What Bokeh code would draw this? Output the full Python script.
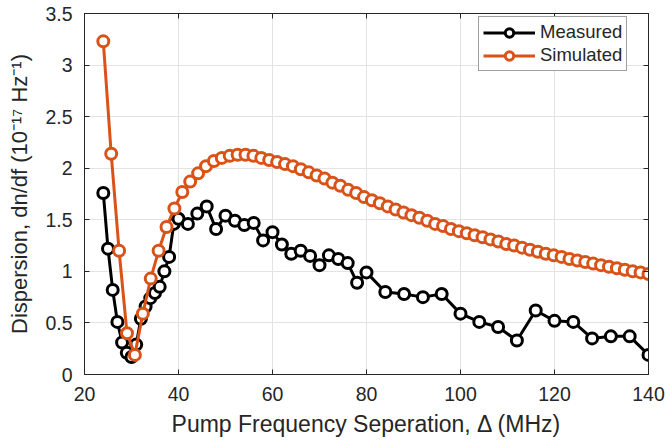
from bokeh.plotting import figure
from bokeh.models import Range1d, LinearAxis, FixedTicker, CustomJSTickFormatter, Legend
from bokeh.embed import file_html
from bokeh.resources import INLINE

# ---------------- data ----------------
meas_x = [24, 25, 26, 27, 28, 29, 30, 31, 32, 33, 34, 35, 36, 37, 38, 39, 40,
          42, 44, 46, 48, 50, 52, 54, 56, 58, 60, 62, 64, 66, 68, 70, 72, 74, 76, 78, 80,
          84, 88, 92, 96, 100, 104, 108, 112, 116, 120, 124, 128, 132, 136, 140]
meas_y = [1.76, 1.22, 0.82, 0.51, 0.31, 0.21, 0.17, 0.29, 0.54, 0.66, 0.74, 0.79, 0.85, 1.00, 1.14, 1.46, 1.51,
          1.46, 1.56, 1.63, 1.41, 1.54, 1.49, 1.45, 1.47, 1.30, 1.38, 1.26, 1.17, 1.20, 1.15, 1.06, 1.155, 1.12, 1.08, 0.89, 0.99,
          0.80, 0.78, 0.75, 0.78, 0.59, 0.51, 0.46, 0.33, 0.62, 0.52, 0.51, 0.35, 0.37, 0.37, 0.19]

sim_x = [24.00, 25.68, 27.36, 29.04, 30.72, 32.41, 34.09, 35.77, 37.45, 39.13,
         40.81, 42.49, 44.17, 45.86, 47.54, 49.22, 50.90, 52.58, 54.26, 55.94,
         57.62, 59.30, 60.99, 62.67, 64.35, 66.03, 67.71, 69.39, 71.07, 72.75,
         74.43, 76.12, 77.80, 79.48, 81.16, 82.84, 84.52, 86.20, 87.88, 89.57,
         91.25, 92.93, 94.61, 96.29, 97.97, 99.65, 101.33, 103.01, 104.70, 106.38,
         108.06, 109.74, 111.42, 113.10, 114.78, 116.46, 118.14, 119.83, 121.51, 123.19,
         124.87, 126.55, 128.23, 129.91, 131.59, 133.28, 134.96, 136.64, 138.32, 140.00]
sim_y = [3.23, 2.14, 1.20, 0.40, 0.19, 0.59, 0.93, 1.20, 1.43, 1.61,
         1.77, 1.87, 1.95, 2.02, 2.07, 2.10, 2.12, 2.13, 2.13, 2.12,
         2.10, 2.08, 2.06, 2.04, 2.02, 1.99, 1.96, 1.93, 1.90, 1.86,
         1.83, 1.79, 1.76, 1.72, 1.69, 1.66, 1.63, 1.60, 1.57, 1.545,
         1.52, 1.49, 1.46, 1.44, 1.41, 1.39, 1.37, 1.35, 1.33, 1.31,
         1.29, 1.265, 1.25, 1.23, 1.21, 1.19, 1.17, 1.155, 1.14, 1.12,
         1.105, 1.09, 1.075, 1.06, 1.045, 1.03, 1.015, 1.00, 0.99, 0.975]

x_ticks = [20, 40, 60, 80, 100, 120, 140]
y_ticks = [0, 0.5, 1, 1.5, 2, 2.5, 3, 3.5]

FONT = "Liberation Sans"
TXT = "#262626"

p = figure(width=665, height=441, output_backend="svg", toolbar_location=None,
           x_range=Range1d(20, 140), y_range=Range1d(0, 3.5),
           min_border_left=84, min_border_right=17, min_border_top=13, min_border_bottom=67,
           x_axis_label="Pump Frequency Seperation, \u0394 (MHz)",
           y_axis_label="Dispersion, dn/df (10\u207b\u00b9\u2077 Hz\u207b\u00b9)")
p.outline_line_color = TXT
p.outline_line_width = 1
p.background_fill_color = "white"
p.border_fill_color = "white"

for ax in (p.xaxis[0], p.yaxis[0]):
    ax.axis_line_color = TXT
    ax.major_tick_line_color = TXT
    ax.major_tick_in = 5
    ax.major_tick_out = 0
    ax.minor_tick_line_color = None
    ax.major_label_text_font = FONT
    ax.major_label_text_font_size = "19.5px"
    ax.major_label_text_color = TXT
    ax.axis_label_text_font = FONT
    ax.axis_label_text_font_style = "normal"
    ax.axis_label_text_color = TXT
p.xaxis[0].axis_label_text_font_size = "23px"
p.yaxis[0].axis_label_text_font_size = "22px"
p.xaxis[0].ticker = FixedTicker(ticks=x_ticks)
p.yaxis[0].ticker = FixedTicker(ticks=y_ticks)
p.xaxis[0].major_label_standoff = 12
p.xaxis[0].axis_label_standoff = 7
p.yaxis[0].major_label_standoff = 12
p.yaxis[0].axis_label_standoff = 10

blank = CustomJSTickFormatter(code="return ''")
top = LinearAxis(ticker=FixedTicker(ticks=x_ticks), formatter=blank,
                 major_tick_in=5, major_tick_out=0, minor_tick_line_color=None,
                 major_label_standoff=0, axis_line_color=TXT, major_tick_line_color=TXT)
right = LinearAxis(ticker=FixedTicker(ticks=y_ticks), formatter=blank,
                   major_tick_in=5, major_tick_out=0, minor_tick_line_color=None,
                   major_label_standoff=0, axis_line_color=TXT, major_tick_line_color=TXT)
p.add_layout(top, "above")
p.add_layout(right, "right")

p.xgrid.ticker = FixedTicker(ticks=x_ticks)
p.ygrid.ticker = FixedTicker(ticks=y_ticks)
p.grid.grid_line_color = "#e3e3e3"
p.grid.grid_line_width = 1

BLACK = "#000000"
ORANGE = "#D95319"

r1 = p.line(meas_x, meas_y, line_color=BLACK, line_width=3)
s1 = p.scatter(meas_x, meas_y, marker="circle", size=11, line_color=BLACK, line_width=3,
               fill_color="white")
r2 = p.line(sim_x, sim_y, line_color=ORANGE, line_width=3)
s2 = p.scatter(sim_x, sim_y, marker="circle", size=11, line_color=ORANGE, line_width=3,
               fill_color="white")

legend = Legend(items=[("Measured", [r1, s1]), ("Simulated", [r2, s2])],
                location=(394, 303))
legend.label_text_font = FONT
legend.label_text_font_size = "18.5px"
legend.label_text_color = TXT
legend.glyph_width = 52
legend.glyph_height = 21
legend.label_height = 21
legend.spacing = 1
legend.padding = 4
legend.margin = 0
legend.label_standoff = 5
legend.border_line_color = "#404040"
legend.border_line_width = 1
legend.background_fill_color = "white"
legend.background_fill_alpha = 1
p.add_layout(legend)

open("out.html", "w").write(file_html(p, INLINE))
